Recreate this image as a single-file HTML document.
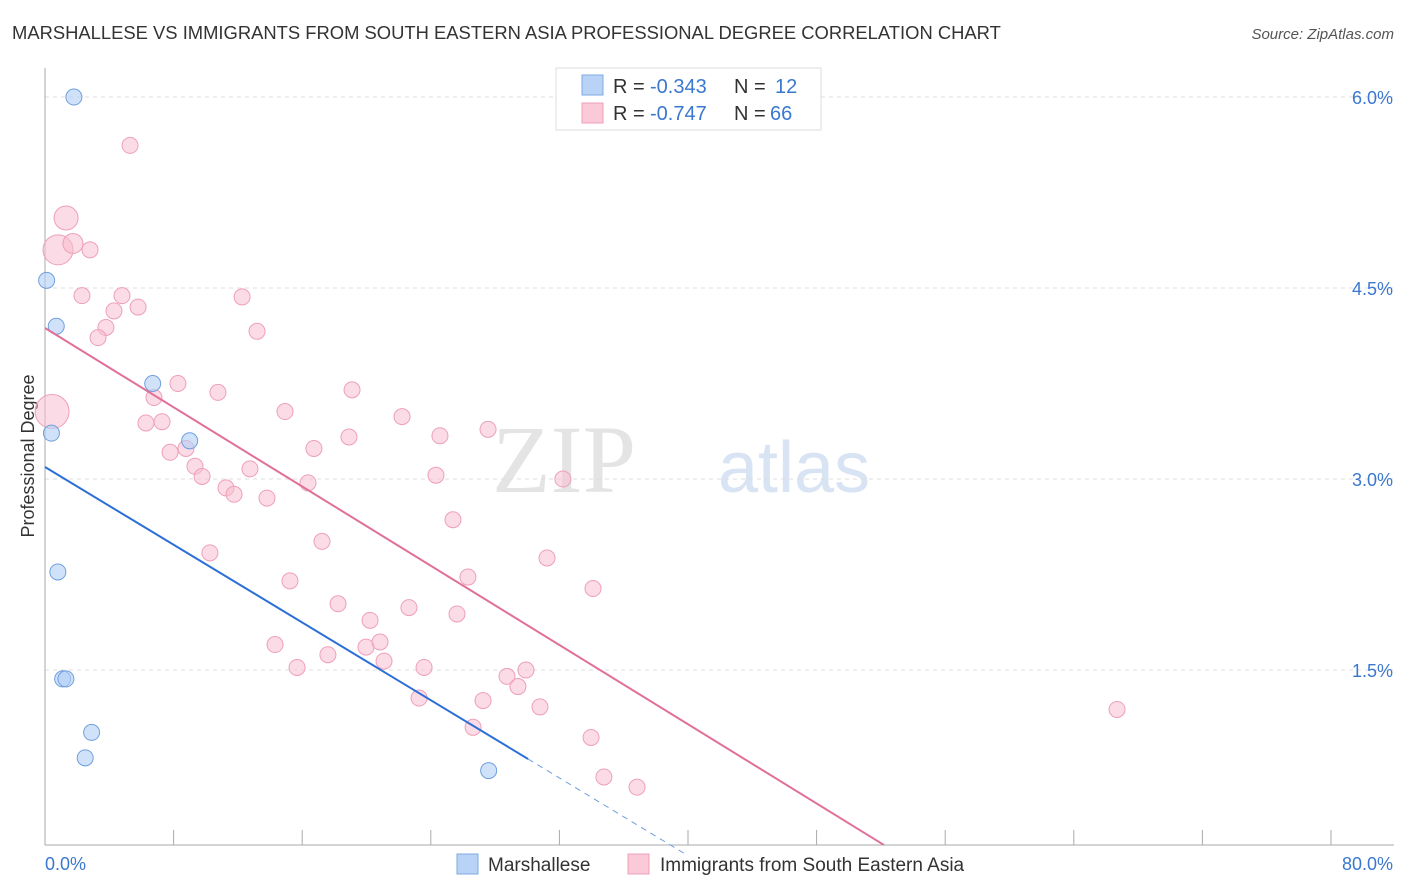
<!DOCTYPE html>
<html><head><meta charset="utf-8"><style>
body{margin:0;background:#fff;font-family:"Liberation Sans",sans-serif;}
svg{display:block}
</style></head><body>
<svg id="chart" width="1406" height="892" xmlns="http://www.w3.org/2000/svg">
<text x="12" y="39" font-size="18.4" fill="#333">MARSHALLESE VS IMMIGRANTS FROM SOUTH EASTERN ASIA PROFESSIONAL DEGREE CORRELATION CHART</text>
<text x="1394" y="39" font-size="15" fill="#555" font-style="italic" text-anchor="end">Source: ZipAtlas.com</text>
<text x="636" y="492" font-size="96" fill="#e4e4e4" font-family="Liberation Serif" text-anchor="end">ZIP</text>
<text x="718" y="492" font-size="72" fill="#d8e3f3">atlas</text>
<text transform="translate(34,456) rotate(-90)" font-size="18" fill="#333" text-anchor="middle">Professional Degree</text>
<g id="grid"></g><g id="marks"></g>
<g font-size="20">
<rect x="556" y="68" width="265" height="62" fill="#fff" stroke="#ddd"/>
<rect x="582" y="75" width="21" height="20" fill="#b8d3f5" stroke="#7fa9e0"/>
<rect x="582" y="103" width="21" height="20" fill="#fbc9d7" stroke="#eea0b8"/>
<text x="613" y="93" fill="#333">R =</text><text x="650" y="93" fill="#3a78d0">-0.343</text>
<text x="734" y="93" fill="#333">N =</text><text x="775" y="93" fill="#3a78d0">12</text>
<text x="613" y="120" fill="#333">R =</text><text x="650" y="120" fill="#3a78d0">-0.747</text>
<text x="734" y="120" fill="#333">N =</text><text x="770" y="120" fill="#3a78d0">66</text>
</g>
<g>
<rect x="457" y="854" width="21" height="20" fill="#b8d3f5" stroke="#7fa9e0"/>
<text x="488" y="871" font-size="19" fill="#333">Marshallese</text>
<rect x="628" y="854" width="21" height="20" fill="#fbc9d7" stroke="#eea0b8"/>
<text x="660" y="871" font-size="19" fill="#333">Immigrants from South Eastern Asia</text>
</g>
<text x="45" y="870" font-size="18" fill="#3a78d0">0.0%</text>
<text x="1393" y="870" font-size="18" fill="#3a78d0" text-anchor="end">80.0%</text>
</svg>
<script>
const blueX=[1.8,0.1,0.7,6.7,0.4,9.0,0.8,1.1,1.3,2.9,2.5,27.6];
const blueY=[6.0,4.56,4.2,3.75,3.36,3.3,2.27,1.43,1.43,1.01,0.81,0.71];
const pinkPx=[[130,145],[66,218],[58,250],[73,243],[90,250],[82,296],[122,296],[138,307],[114,311],[106,327],[98,338],[242,297],[257,331],[52,411],[178,384],[154,398],[218,392],[146,423],[162,422],[186,448],[170,452],[195,466],[202,477],[226,488],[234,494],[250,469],[267,498],[285,412],[314,448],[308,483],[352,390],[349,437],[402,417],[440,436],[488,429],[436,475],[453,520],[563,479],[322,542],[210,553],[290,581],[468,577],[547,558],[593,588],[338,604],[370,620],[409,607],[457,614],[275,645],[297,668],[328,655],[366,647],[380,642],[384,661],[424,668],[419,698],[483,701],[473,727],[507,677],[518,686],[526,670],[540,707],[591,737],[604,777],[637,787],[1117,710]];
const pinkX=pinkPx.map(p=>+((p[0]-45)/1286*80).toFixed(2));
const pinkY=pinkPx.map(p=>+((861-p[1])/127.33).toFixed(2));
const pinkR=pinkX.map((v,i)=>i==1?12:i==2?15:i==13?17:i==3?10:8);
const yTicks=[1.5,3.0,4.5,6.0];
const blueLine=[3.094,-0.0763];
const pinkLine=[4.186,-0.0778];
const NS="http://www.w3.org/2000/svg";
const sx=v=>45+v/80*1286, sy=v=>861-v*127.33;
function mk(t,a,p){const e=document.createElementNS(NS,t);for(const k in a)e.setAttribute(k,a[k]);p.appendChild(e);return e;}
const g=document.getElementById('grid'),m=document.getElementById('marks');
yTicks.forEach(t=>{const l=mk('line',{x1:45,x2:1394,y1:sy(t),y2:sy(t),stroke:'#ddd','stroke-dasharray':'4,4'},g);


const tx=mk('text',{x:1393,y:sy(t)+7,'font-size':18,fill:'#3a78d0','text-anchor':'end'},g);tx.textContent=t.toFixed(1)+'%';

});
mk('line',{x1:45,x2:45,y1:68,y2:845,stroke:'#aaa'},g);
mk('line',{x1:45,x2:1394,y1:845,y2:845,stroke:'#aaa'},g);
for(let i=1;i<=10;i++)mk('line',{x1:sx(i*8),x2:sx(i*8),y1:830,y2:845,stroke:'#aaa'},g);
pinkX.forEach((x,i)=>{const c=mk('circle',{cx:sx(x),cy:sy(pinkY[i]),r:pinkR[i],fill:'rgba(248,190,208,0.55)',stroke:'#eea0b8','stroke-width':1},m);

});
blueX.forEach((x,i)=>{const c=mk('circle',{cx:sx(x),cy:sy(blueY[i]),r:8,fill:'rgba(176,206,245,0.6)',stroke:'#6f9fdc','stroke-width':1},m);

});
const bEnd=30.05;
let l1=mk('line',{x1:sx(0),y1:sy(blueLine[0]),x2:sx(bEnd),y2:sy(blueLine[0]+blueLine[1]*bEnd),stroke:'#2c6fd6','stroke-width':2},m);


let l2=mk('line',{x1:sx(bEnd),y1:sy(blueLine[0]+blueLine[1]*bEnd),x2:sx(40),y2:sy(blueLine[0]+blueLine[1]*40),stroke:'#6f9fdc','stroke-width':1,'stroke-dasharray':'6,5'},m);


const pEnd=(pinkLine[0]-0.126)/-pinkLine[1];
let l3=mk('line',{x1:sx(0),y1:sy(pinkLine[0]),x2:sx(pEnd),y2:sy(pinkLine[0]+pinkLine[1]*pEnd),stroke:'#e0709a','stroke-width':2},m);


</script>
</body></html>
